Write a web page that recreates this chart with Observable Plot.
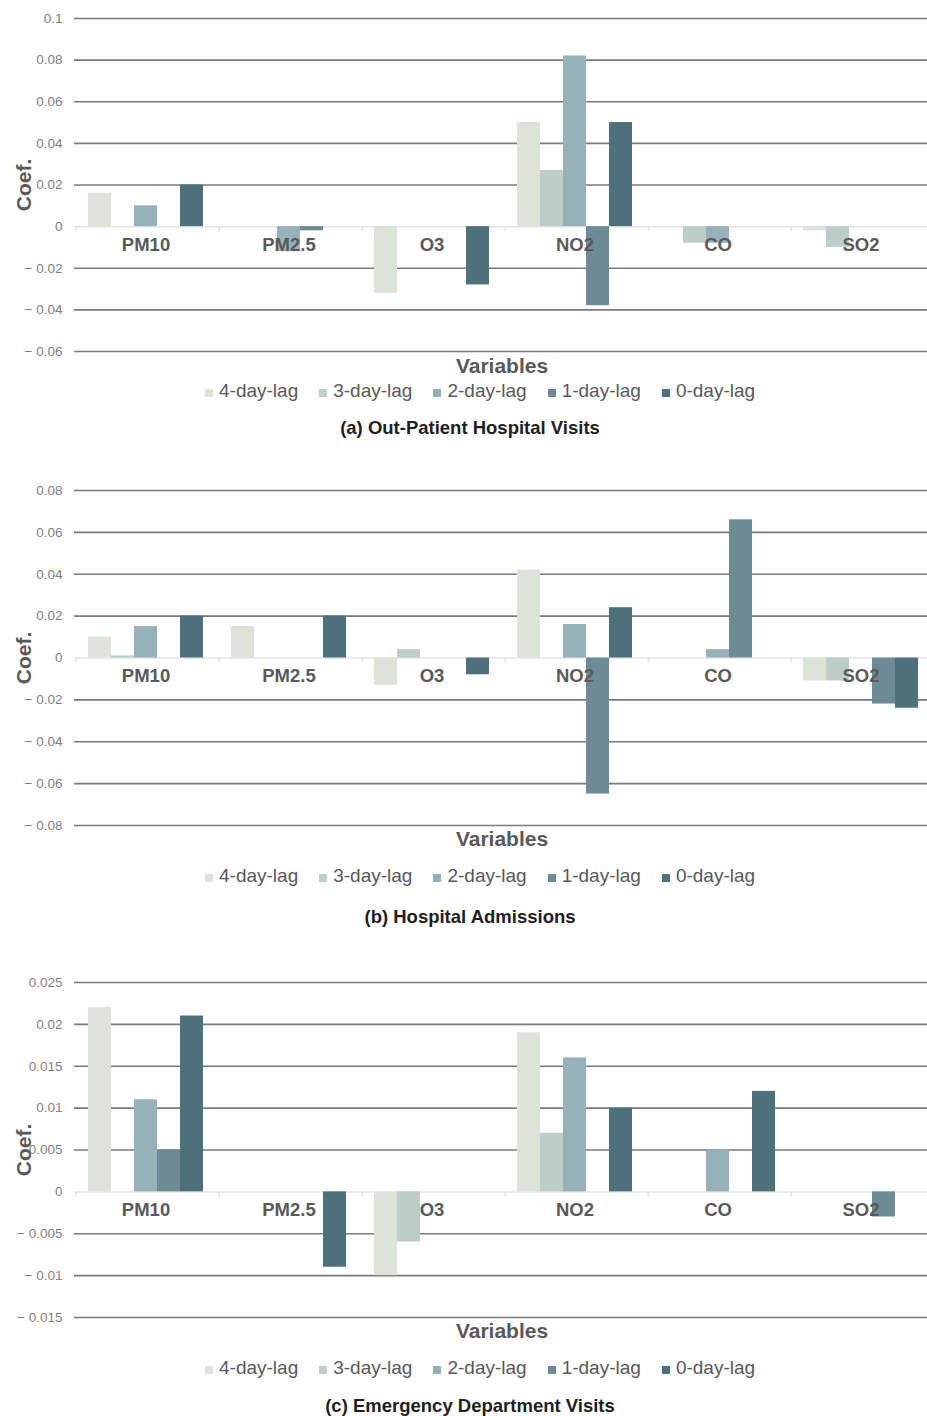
<!DOCTYPE html>
<html>
<head>
<meta charset="utf-8">
<script src="https://cdn.jsdelivr.net/npm/d3@7"></script>
<script src="https://cdn.jsdelivr.net/npm/@observablehq/plot@0.6"></script>
<style>
  body { margin: 0; background: #fff; }
  #root { position: relative; width: 927px; height: 1416px; overflow: hidden;
          font-family: "Liberation Sans", Arial, Helvetica, sans-serif; }
  .abs { position: absolute; white-space: nowrap; }
  .center { transform: translate(-50%, -50%); }
  .ylabel { transform: translate(-50%, -50%) rotate(-90deg); font-weight: bold;
            font-size: 21px; color: #595959; }
  .xlabel { font-weight: bold; font-size: 21px; color: #595959; }
  .caption { font-weight: bold; font-size: 18.5px; color: #1e1e1e; }
  .legend { display: flex; gap: 21px; transform: translateY(-50%); }
  .legend-item { display: flex; align-items: center; font-size: 19px; color: #595959; }
  .swatch { display: inline-block; width: 8px; height: 8px; margin-right: 6px;
            position: relative; top: 2px; }
</style>
</head>
<body>
<div id="root"></div>
<script>
// Pollutant variables and lag structures shared by all three panels
const variables = ["PM10", "PM2.5", "O3", "NO2", "CO", "SO2"];
const lags = ["4-day-lag", "3-day-lag", "2-day-lag", "1-day-lag", "0-day-lag"];
const lagColors = ["#dde3d9", "#bdcec9", "#96b1b8", "#6c8b94", "#4d707a"];

// Coefficients: one row per lag (4-day ... 0-day), one column per variable
const outPatientCoef = [
  [0.016, 0, -0.032, 0.050, 0, -0.002],
  [0, 0, 0, 0.027, -0.008, -0.010],
  [0.010, -0.012, 0, 0.082, -0.008, 0],
  [0, -0.002, 0, -0.038, 0, 0],
  [0.020, 0, -0.028, 0.050, 0, 0]
];
const admissionsCoef = [
  [0.010, 0.015, -0.013, 0.042, 0, -0.011],
  [0.001, 0, 0.004, 0, 0, -0.011],
  [0.015, 0, 0, 0.016, 0.004, 0],
  [0, 0, 0, -0.065, 0.066, -0.022],
  [0.020, 0.020, -0.008, 0.024, 0, -0.024]
];
const emergencyCoef = [
  [0.022, 0, -0.010, 0.019, 0, 0],
  [0, 0, -0.006, 0.007, 0, 0],
  [0.011, 0, 0, 0.016, 0.005, 0],
  [0.005, 0, 0, 0, 0, -0.003],
  [0.021, -0.009, 0, 0.010, 0.012, 0]
];

// Y tick values for each panel
const outPatientTicks = [-0.06, -0.04, -0.02, 0, 0.02, 0.04, 0.06, 0.08, 0.1];
const admissionsTicks = [-0.08, -0.06, -0.04, -0.02, 0, 0.02, 0.04, 0.06, 0.08];
const emergencyTicks = [-0.015, -0.01, -0.005, 0, 0.005, 0.01, 0.015, 0.02, 0.025];

const captions = [
  "(a) Out-Patient Hospital Visits",
  "(b) Hospital Admissions",
  "(c) Emergency Department Visits"
];

// Page layout of each panel (top of the plot frame, frame height, text rows)
const panels = [
  {coef: outPatientCoef, ticks: outPatientTicks, caption: captions[0],
   frameTop: 18, frameH: 333, xlabelY: 366, legendY: 391, captionY: 428},
  {coef: admissionsCoef, ticks: admissionsTicks, caption: captions[1],
   frameTop: 490, frameH: 335, xlabelY: 839, legendY: 876, captionY: 917},
  {coef: emergencyCoef, ticks: emergencyTicks, caption: captions[2],
   frameTop: 982, frameH: 335, xlabelY: 1331, legendY: 1368, captionY: 1406}
];

const root = document.getElementById("root");
const fmt = d => d < 0 ? "\u2212 " + String(-d) : String(d);

for (const p of panels) {
  const rows = [];
  p.coef.forEach((vals, i) => vals.forEach((v, j) => rows.push({variable: variables[j], lag: lags[i], coef: v})));
  const pad = 10;
  const chart = Plot.plot({
    width: 927,
    height: p.frameH + 2 * pad,
    marginLeft: 74,
    marginRight: -5,
    marginTop: pad,
    marginBottom: pad,
    style: {fontFamily: "'Liberation Sans', Arial, sans-serif", fontSize: "13.5px", background: "transparent"},
    fx: {domain: variables, paddingInner: 0, paddingOuter: 0, axis: null},
    x: {domain: lags, paddingInner: 0, paddingOuter: 0.5, axis: null},
    y: {domain: [p.ticks[0], p.ticks[p.ticks.length - 1]], axis: null},
    color: {domain: lags, range: lagColors},
    marks: [
      Plot.ruleY(p.ticks.filter(t => t !== 0), {stroke: "#7a7a7a", strokeWidth: 1.6}),
      Plot.ruleY([0], {stroke: "#e4e4e4", strokeWidth: 1.5}),
      Plot.ruleX(variables, {fx: d => d, x: () => lags[0], y1: 0, y2: 0, dx: -23.8,
                             insetBottom: -5, stroke: "#dcdcdc", strokeWidth: 1.2}),
      Plot.barY(rows, {fx: "variable", x: "lag", y: "coef", fill: "lag",
                       filter: d => d.coef !== 0}),
      Plot.text(variables, {fx: d => d, y: () => 0, text: d => d, dy: 18,
                            fontSize: 18.5, fontWeight: "bold", fill: "#595959"}),
      Plot.axisY({ticks: p.ticks, tickSize: 0, tickPadding: 12, tickFormat: fmt,
                  fill: "#7f7f7f", fontSize: 13.5, label: null})
    ]
  });
  chart.style.position = "absolute";
  chart.style.left = "0px";
  chart.style.top = (p.frameTop - pad) + "px";
  root.appendChild(chart);

  const yl = document.createElement("div");
  yl.className = "abs ylabel";
  yl.textContent = "Coef.";
  yl.style.left = "24px";
  yl.style.top = (p.frameTop + p.frameH / 2) + "px";
  root.appendChild(yl);

  const xl = document.createElement("div");
  xl.className = "abs center xlabel";
  xl.textContent = "Variables";
  xl.style.left = "502px";
  xl.style.top = p.xlabelY + "px";
  root.appendChild(xl);

  const lg = document.createElement("div");
  lg.className = "abs legend";
  lg.style.left = "205px";
  lg.style.top = p.legendY + "px";
  lags.forEach((lag, i) => {
    const item = document.createElement("span");
    item.className = "legend-item";
    const sw = document.createElement("span");
    sw.className = "swatch";
    sw.style.background = lagColors[i];
    item.appendChild(sw);
    item.appendChild(document.createTextNode(lag));
    lg.appendChild(item);
  });
  root.appendChild(lg);

  const cap = document.createElement("div");
  cap.className = "abs center caption";
  cap.textContent = p.caption;
  cap.style.left = "470px";
  cap.style.top = p.captionY + "px";
  root.appendChild(cap);
}
</script>
</body>
</html>
